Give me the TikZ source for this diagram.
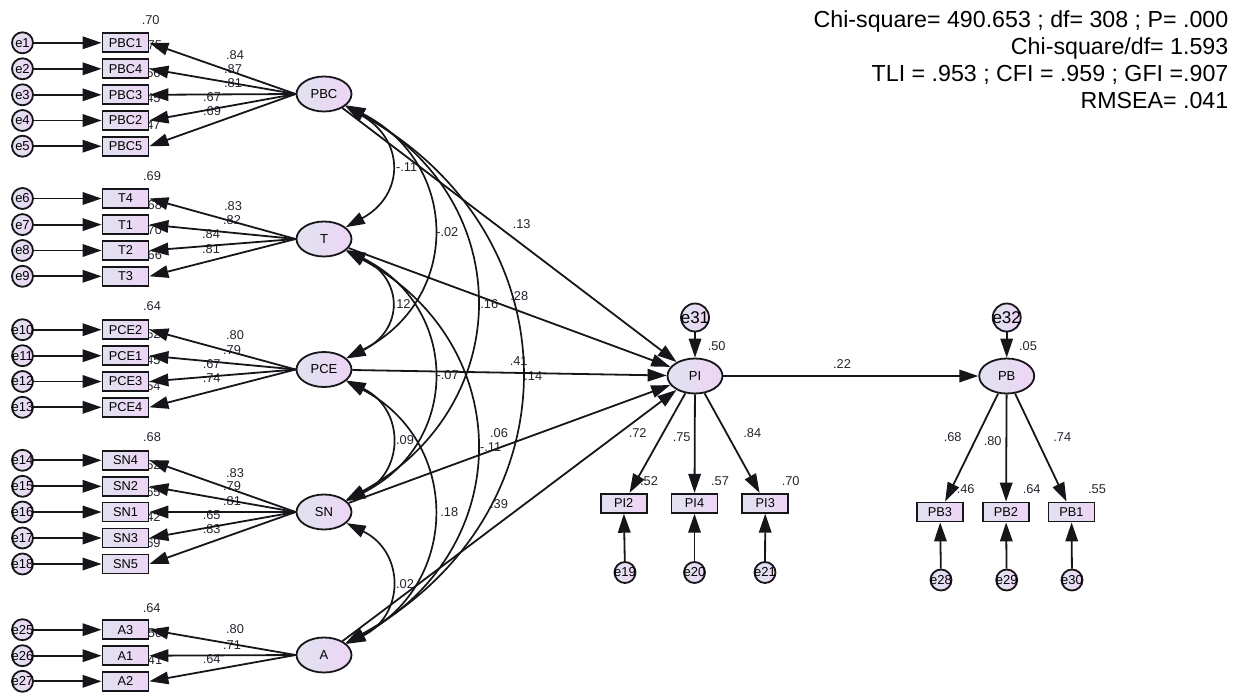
\documentclass[tikz,border=0pt]{standalone}
\usepackage{fontspec}
\setmainfont{Liberation Sans}
\usetikzlibrary{arrows.meta,shapes.geometric}
\pgfdeclarelayer{labels}
\pgfdeclarelayer{links}
\pgfsetlayers{labels,links,main}

\definecolor{ink}{RGB}{22,22,26}
\definecolor{numink}{RGB}{35,35,45}
\definecolor{shadeL}{RGB}{224,226,240}
\definecolor{shadeR}{RGB}{237,213,245}

% keeps wide error labels from enlarging their circles
\newcommand{\tightlbl}[1]{\makebox[0pt]{#1}}

\begin{document}
\begin{tikzpicture}[x=1pt,y=-1pt,
  >={Triangle[length=19pt,width=12.5pt]},
  gradfill/.style={left color=shadeL,right color=shadeR,draw=ink,line width=1.8pt},
  obs/.style={gradfill,rectangle,minimum width=46pt,minimum height=19pt,inner sep=0pt,font=\fontsize{12.8}{14}\selectfont},
  lat/.style={gradfill,ellipse,minimum width=55pt,minimum height=35pt,inner sep=0pt,font=\fontsize{13}{14}\selectfont},
  err/.style={gradfill,circle,minimum size=21pt,inner sep=0pt,font=\fontsize{13}{14}\selectfont},
  dist/.style={err,minimum size=28pt,font=\fontsize{17}{18}\selectfont},
  reg/.style={draw=ink,line width=1.8pt,->},
  cov/.style={draw=ink,line width=1.7pt,<->},
  num/.style={inner sep=0pt,text=numink,font=\fontsize{12.8}{14}\selectfont},
  fitline/.style={inner sep=0pt,anchor=base east,text=black,font=\fontsize{23.2}{26}\selectfont}
]
\path[use as bounding box] (0,0) rectangle (1241,693);

% ---------- indicators and their error terms (left column)
\foreach \nm/\ee/\yy in {PBC1/e1/42.8, PBC4/e2/68.8, PBC3/e3/94.8, PBC2/e4/120.5, PBC5/e5/146.2,
    T4/e6/198.5, T1/e7/224.6, T2/e8/250.5, T3/e9/276.3,
    PCE2/e10/329.7, PCE1/e11/355.7, PCE3/e12/381.5, PCE4/e13/407.3,
    SN4/e14/460.3, SN2/e15/486.3, SN1/e16/512, SN3/e17/538, SN5/e18/564,
    A3/e25/629.7, A1/e26/655.7, A2/e27/681.3} {
  \node[obs] (\nm) at (125.5,\yy) {\nm};
  \node[err] (\ee) at (22.5,\yy) {\tightlbl{\ee}};
}

% ---------- exogenous latent factors
\node[lat] (PBC) at (324,94) {PBC};
\node[lat] (T) at (324,239) {T};
\node[lat] (PCE) at (324,369.5) {PCE};
\node[lat] (SN) at (324,512) {SN};
\node[lat] (A) at (324,655) {A};

% ---------- purchase intention block
\node[lat] (PI) at (695,376) {PI};
\node[dist] (e31) at (695,317.5) {\tightlbl{e31}};
\node[obs] (PI2) at (623.7,503.3) {PI2};
\node[obs] (PI4) at (694.5,503.3) {PI4};
\node[obs] (PI3) at (765.3,503.3) {PI3};
\node[err] (e19) at (625,572.5) {\tightlbl{e19}};
\node[err] (e20) at (694.5,572.5) {\tightlbl{e20}};
\node[err] (e21) at (765,572.5) {\tightlbl{e21}};

% ---------- purchase behaviour block
\node[lat] (PB) at (1006.7,376) {PB};
\node[dist] (e32) at (1006.7,317.5) {\tightlbl{e32}};
\node[obs] (PB3) at (940,512) {PB3};
\node[obs] (PB2) at (1006,512) {PB2};
\node[obs] (PB1) at (1071.5,512) {PB1};
\node[err] (e28) at (941,580) {\tightlbl{e28}};
\node[err] (e29) at (1006.7,580) {\tightlbl{e29}};
\node[err] (e30) at (1072,580) {\tightlbl{e30}};

% ---------- fit indices
\node[fitline] (fit1) at (1228.5,27.8) {Chi-square= 490.653 ; df= 308 ; P= .000};
\node[fitline] (fit2) at (1228.5,54.6) {Chi-square/df= 1.593};
\node[fitline] (fit3) at (1228.5,81.4) {TLI = .953 ; CFI = .959 ; GFI =.907};
\node[fitline] (fit4) at (1228.5,108.2) {RMSEA= .041};

% ---------- connectors
\begin{pgfonlayer}{links}
  % loadings of the exogenous factors
  \foreach \lv/\items in {PBC/{PBC1,PBC4,PBC3,PBC2,PBC5}, T/{T4,T1,T2,T3},
      PCE/{PCE2,PCE1,PCE3,PCE4}, SN/{SN4,SN2,SN1,SN3,SN5}, A/{A3,A1,A2}} {
    \foreach \it in \items { \draw[reg] (\lv.west) -- (\it.east); }
  }
  % error terms into indicators
  \foreach \ee/\nm in {e1/PBC1, e2/PBC4, e3/PBC3, e4/PBC2, e5/PBC5,
      e6/T4, e7/T1, e8/T2, e9/T3, e10/PCE2, e11/PCE1, e12/PCE3, e13/PCE4,
      e14/SN4, e15/SN2, e16/SN1, e17/SN3, e18/SN5, e25/A3, e26/A1, e27/A2,
      e19/PI2, e20/PI4, e21/PI3, e28/PB3, e29/PB2, e30/PB1, e31/PI, e32/PB} {
    \draw[reg] (\ee) -- (\nm);
  }
  % structural paths
  \foreach \lv in {PBC,T,PCE,SN,A} { \draw[reg] (\lv) -- (PI); }
  \draw[reg] (PI) -- (PB);
  \foreach \nm in {PI2,PI4,PI3} { \draw[reg] (PI) -- (\nm); }
  \foreach \nm in {PB3,PB2,PB1} { \draw[reg] (PB) -- (\nm); }
  % covariances between the exogenous factors
  \draw[cov] (PBC) .. controls (405,140) and (405,195) .. (T);
  \draw[cov] (T) .. controls (404,279) and (404,330) .. (PCE);
  \draw[cov] (PCE) .. controls (405,409) and (405,472) .. (SN);
  \draw[cov] (SN) .. controls (405,552) and (405,615) .. (A);
  \draw[cov] (PBC) .. controls (461,164) and (461,300) .. (PCE);
  \draw[cov] (T) .. controls (461,307) and (461,444) .. (SN);
  \draw[cov] (PCE) .. controls (461,441) and (461,584) .. (A);
  \draw[cov] (PBC) .. controls (518,199) and (518,407) .. (SN);
  \draw[cov] (T) .. controls (518,343) and (518,551) .. (A);
  \draw[cov] (PBC) .. controls (578,234) and (578,515) .. (A);
\end{pgfonlayer}

% ---------- estimates
\begin{pgfonlayer}{labels}
  \foreach \t/\x/\y [count=\k] in {
      .84/235/55, .87/233/69, .81/233/83, .67/212/97, .69/212/111,
      .70/150.7/20, .75/153/45, .66/151.7/72.7, .45/151.7/98.3, .47/151.7/125,
      .83/233/205.7, .82/232/220, .84/211/234, .81/211/249,
      .69/152/176.5, .68/153/205, .70/153/230, .66/153/255,
      .80/235/335, .79/232/350, .67/211.7/364, .74/211.7/378,
      .64/152/306.5, .62/151.7/334, .45/151.7/360, .54/151.7/386,
      .83/235/472.7, .79/232/486, .81/232/500.7, .65/211.7/515, .83/211.7/529,
      .68/152/437.5, .62/151.7/465, .65/151.7/491.7, .42/151.7/516.7, .69/151.7/542.7,
      .80/235/629, .71/232/645, .64/211.7/659,
      .64/151.7/608.3, .50/153.3/633.3, .41/153.3/660,
      -.11/406.7/167.3, -.02/447.3/231.7, .13/521.7/224.3, .12/401.7/304.3,
      .16/489.3/304.3, .28/519.3/295.7, .41/518.7/360.7, -.07/447.7/375,
      .14/533.3/376, .09/405/440, .06/499/433.3, -.11/490.7/447.3,
      .18/449.3/512.3, .39/499/504.3, .02/405/584.3,
      .50/716.7/346, .72/637.7/432.7, .75/681.7/436.7, .84/752.3/432.7,
      .52/649/480.7, .57/720/480.7, .70/790.7/480.7, .22/842/364,
      .05/1028/346, .68/952.7/436.7, .80/992.7/440.7, .74/1062.3/436.7,
      .46/965.7/489.3, .64/1031.7/489.3, .55/1097/489.3} {
    \node[num] (est\k) at (\x,\y) {\t};
  }
\end{pgfonlayer}
\end{tikzpicture}
\end{document}
